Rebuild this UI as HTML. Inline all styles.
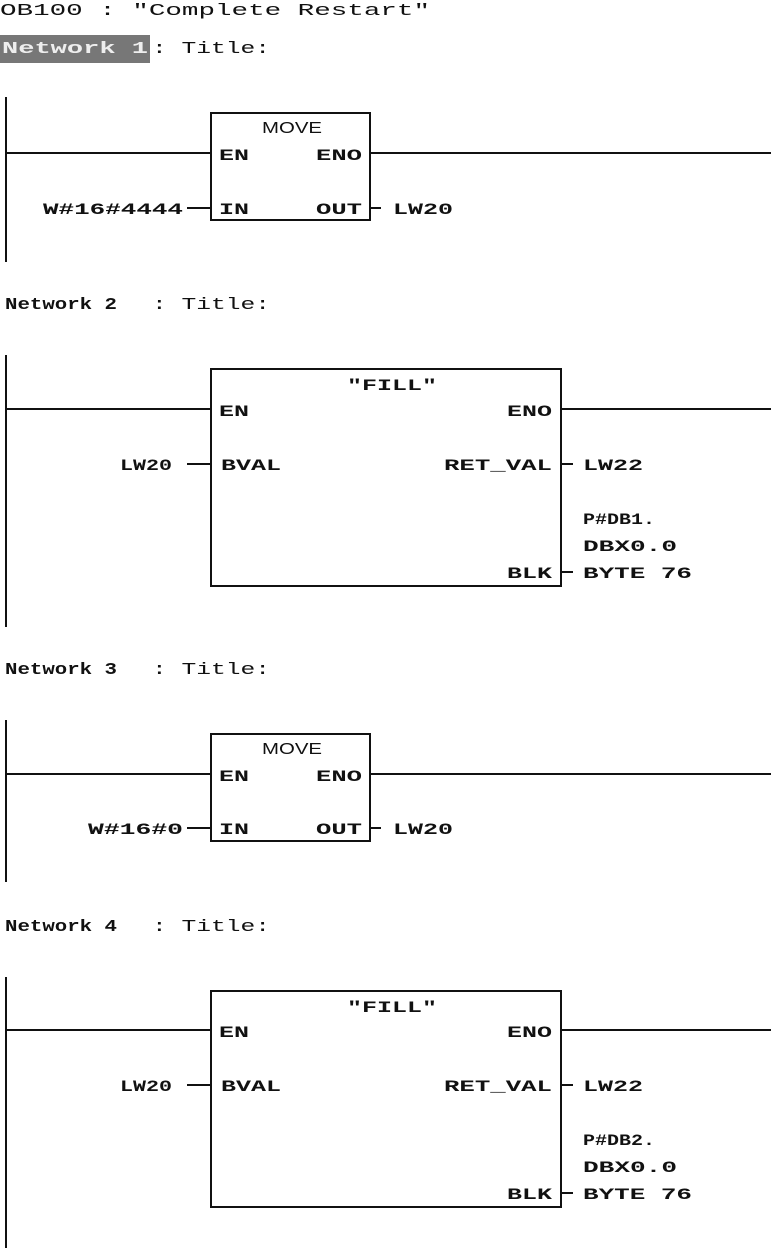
<!DOCTYPE html>
<html><head><meta charset="utf-8"><style>
html,body{margin:0;padding:0;background:#fff;}
svg{display:block}
text{font-family:"Liberation Mono",monospace;fill:#111;}
.b{font-weight:bold}
</style></head><body>
<svg width="771" height="1248" viewBox="0 0 771 1248" xmlns="http://www.w3.org/2000/svg">
<g stroke="#111" stroke-width="2" fill="none">
<!-- N1 -->
<line x1="6" y1="97" x2="6" y2="262"/>
<rect x="211" y="113" width="159" height="107"/>
<line x1="6" y1="153" x2="211" y2="153"/><line x1="370" y1="153" x2="771" y2="153"/>
<line x1="187" y1="208" x2="211" y2="208"/><line x1="370" y1="208" x2="381" y2="208"/>
<!-- N2 -->
<line x1="6" y1="355" x2="6" y2="627"/>
<rect x="211" y="369" width="350" height="217"/>
<line x1="6" y1="409" x2="211" y2="409"/><line x1="561" y1="409" x2="771" y2="409"/>
<line x1="187" y1="464" x2="211" y2="464"/><line x1="561" y1="464" x2="573" y2="464"/>
<line x1="561" y1="572" x2="573" y2="572"/>
<!-- N3 -->
<line x1="6" y1="720" x2="6" y2="882"/>
<rect x="211" y="734" width="159" height="107"/>
<line x1="6" y1="774" x2="211" y2="774"/><line x1="370" y1="774" x2="771" y2="774"/>
<line x1="187" y1="828" x2="211" y2="828"/><line x1="370" y1="828" x2="381" y2="828"/>
<!-- N4 -->
<line x1="6" y1="977" x2="6" y2="1248"/>
<rect x="211" y="991" width="350" height="216"/>
<line x1="6" y1="1030" x2="211" y2="1030"/><line x1="561" y1="1030" x2="771" y2="1030"/>
<line x1="187" y1="1085" x2="211" y2="1085"/><line x1="561" y1="1085" x2="573" y2="1085"/>
<line x1="561" y1="1193" x2="573" y2="1193"/>
</g>
<rect x="0" y="35" width="150" height="28" fill="#777"/>
<g font-size="17" lengthAdjust="spacingAndGlyphs">
<text x="0" y="15" textLength="430" lengthAdjust="spacingAndGlyphs">OB100 :  "Complete Restart"</text>
<text x="2" y="53" class="b" textLength="146" lengthAdjust="spacingAndGlyphs" style="fill:#eee">Network 1</text>
<text x="152" y="53" textLength="118" lengthAdjust="spacingAndGlyphs">: Title:</text>
<text x="5" y="309" class="b" textLength="112" lengthAdjust="spacingAndGlyphs">Network 2</text>
<text x="152" y="309" textLength="118" lengthAdjust="spacingAndGlyphs">: Title:</text>
<text x="5" y="674" class="b" textLength="112" lengthAdjust="spacingAndGlyphs">Network 3</text>
<text x="152" y="674" textLength="118" lengthAdjust="spacingAndGlyphs">: Title:</text>
<text x="5" y="931" class="b" textLength="112" lengthAdjust="spacingAndGlyphs">Network 4</text>
<text x="152" y="931" textLength="118" lengthAdjust="spacingAndGlyphs">: Title:</text>
</g>
<g font-size="16" class="b">
<!-- N1 -->
<text x="262" y="133" style="font-family:'Liberation Sans',sans-serif;font-weight:normal" textLength="60" lengthAdjust="spacingAndGlyphs">MOVE</text>
<text x="219" y="160" textLength="30" lengthAdjust="spacingAndGlyphs">EN</text>
<text x="316" y="160" textLength="46" lengthAdjust="spacingAndGlyphs">ENO</text>
<text x="219" y="214" textLength="30" lengthAdjust="spacingAndGlyphs">IN</text>
<text x="316" y="214" textLength="46" lengthAdjust="spacingAndGlyphs">OUT</text>
<text x="43" y="214" textLength="140" lengthAdjust="spacingAndGlyphs">W#16#4444</text>
<text x="393" y="214" textLength="60" lengthAdjust="spacingAndGlyphs">LW20</text>
<!-- N2 -->
<text x="347" y="390" textLength="90" lengthAdjust="spacingAndGlyphs">"FILL"</text>
<text x="219" y="416" textLength="30" lengthAdjust="spacingAndGlyphs">EN</text>
<text x="507" y="416" textLength="45" lengthAdjust="spacingAndGlyphs">ENO</text>
<text x="120" y="470" textLength="52" lengthAdjust="spacingAndGlyphs">LW20</text>
<text x="221" y="470" textLength="60" lengthAdjust="spacingAndGlyphs">BVAL</text>
<text x="444" y="470" textLength="108" lengthAdjust="spacingAndGlyphs">RET_VAL</text>
<text x="583" y="470" textLength="60" lengthAdjust="spacingAndGlyphs">LW22</text>
<text x="583" y="524" textLength="72" lengthAdjust="spacingAndGlyphs">P#DB1.</text>
<text x="583" y="551" textLength="94" lengthAdjust="spacingAndGlyphs">DBX0.0</text>
<text x="507" y="578" textLength="45" lengthAdjust="spacingAndGlyphs">BLK</text>
<text x="583" y="578" textLength="109" lengthAdjust="spacingAndGlyphs">BYTE 76</text>
<!-- N3 -->
<text x="262" y="754" style="font-family:'Liberation Sans',sans-serif;font-weight:normal" textLength="60" lengthAdjust="spacingAndGlyphs">MOVE</text>
<text x="219" y="781" textLength="30" lengthAdjust="spacingAndGlyphs">EN</text>
<text x="316" y="781" textLength="46" lengthAdjust="spacingAndGlyphs">ENO</text>
<text x="219" y="834" textLength="30" lengthAdjust="spacingAndGlyphs">IN</text>
<text x="316" y="834" textLength="46" lengthAdjust="spacingAndGlyphs">OUT</text>
<text x="88" y="834" textLength="95" lengthAdjust="spacingAndGlyphs">W#16#0</text>
<text x="393" y="834" textLength="60" lengthAdjust="spacingAndGlyphs">LW20</text>
<!-- N4 -->
<text x="347" y="1012" textLength="90" lengthAdjust="spacingAndGlyphs">"FILL"</text>
<text x="219" y="1037" textLength="30" lengthAdjust="spacingAndGlyphs">EN</text>
<text x="507" y="1037" textLength="45" lengthAdjust="spacingAndGlyphs">ENO</text>
<text x="120" y="1091" textLength="52" lengthAdjust="spacingAndGlyphs">LW20</text>
<text x="221" y="1091" textLength="60" lengthAdjust="spacingAndGlyphs">BVAL</text>
<text x="444" y="1091" textLength="108" lengthAdjust="spacingAndGlyphs">RET_VAL</text>
<text x="583" y="1091" textLength="60" lengthAdjust="spacingAndGlyphs">LW22</text>
<text x="583" y="1145" textLength="72" lengthAdjust="spacingAndGlyphs">P#DB2.</text>
<text x="583" y="1172" textLength="94" lengthAdjust="spacingAndGlyphs">DBX0.0</text>
<text x="507" y="1199" textLength="45" lengthAdjust="spacingAndGlyphs">BLK</text>
<text x="583" y="1199" textLength="109" lengthAdjust="spacingAndGlyphs">BYTE 76</text>
</g>
</svg>
</body></html>
